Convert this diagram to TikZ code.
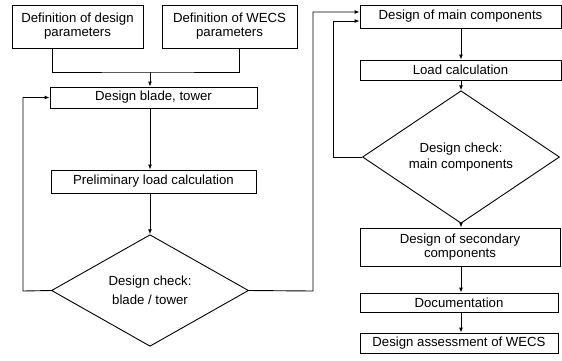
\documentclass[tikz,border=0pt]{standalone}
\usepackage{fontspec}
\setmainfont{Liberation Sans}
\usetikzlibrary{shapes.geometric,arrows.meta}
\begin{document}
\begin{tikzpicture}[x=1pt,y=-1pt,line width=0.9pt,
  font=\fontsize{13.2}{14}\selectfont,
  box/.style={draw,rectangle,inner sep=0pt,align=center},
  check/.style={draw,diamond,inner sep=0pt,align=center},
  arr/.style={-{Latex[length=5pt,width=4pt]}}]
\useasboundingbox (0,0) rectangle (562,360);
% left column
\node[box,minimum width=131,minimum height=43] (defdesign) at (77.5,26.5) {Definition of design\\parameters};
\node[box,minimum width=135,minimum height=43] (defwecs) at (229.5,26.5) {Definition of WECS\\parameters};
\node[box,minimum width=207,minimum height=21] (blade) at (153.5,97.5) {Design blade, tower};
\node[box,minimum width=205,minimum height=23] (prelim) at (153.5,181.5) {Preliminary load calculation};
\node[check,minimum width=197,minimum height=100] (checkbt) at (150,290.5) {Design check:\\[5pt]blade / tower};
% right column
\node[box,minimum width=201,minimum height=23] (main) at (460.5,16.5) {Design of main components};
\node[box,minimum width=201,minimum height=20] (load) at (460.5,70) {Load calculation};
\node[check,minimum width=197,minimum height=100] (checkmc) at (461,157) {Design check:\\[2pt]main components};
\node[box,minimum width=200,minimum height=38] (second) at (460,247) {Design of secondary\\components};
\node[box,minimum width=198,minimum height=19] (doc) at (459,302.5) {Documentation};
\node[box,minimum width=198,minimum height=20] (assess) at (459,343) {Design assessment of WECS};
\coordinate (merge) at (150,72);
\coordinate (loopL) at (23,291);
\coordinate (loopR) at (313,291);
\coordinate (loopM) at (333,157);
% connectors
\draw (defdesign.south -| 52,0) |- (merge) -| (defwecs.south -| 239,0);
\draw[arr] (merge) -- (blade.north -| merge);
\draw[arr] (blade.south -| checkbt.north) -- (prelim.north -| checkbt.north);
\draw[arr] (prelim.south -| checkbt.north) -- (checkbt.north);
\draw[arr] (checkbt.west) -- (loopL) |- (blade.west);
\draw[arr] (checkbt.east) -- (loopR) |- ([yshift=4.5pt]main.west);
\draw[arr] (main.south -| checkmc.north) -- (load.north -| checkmc.north);
\draw[arr] (load.south -| checkmc.north) -- (checkmc.north);
\draw[arr] (checkmc.west) -- (loopM) |- ([yshift=-4.5pt]main.west);
\draw[arr] (checkmc.south) -- (second.north -| checkmc.south);
\draw[arr] (second.south -| checkmc.south) -- (doc.north -| checkmc.south);
\draw[arr] (doc.south -| checkmc.south) -- (assess.north -| checkmc.south);
\end{tikzpicture}
\end{document}
